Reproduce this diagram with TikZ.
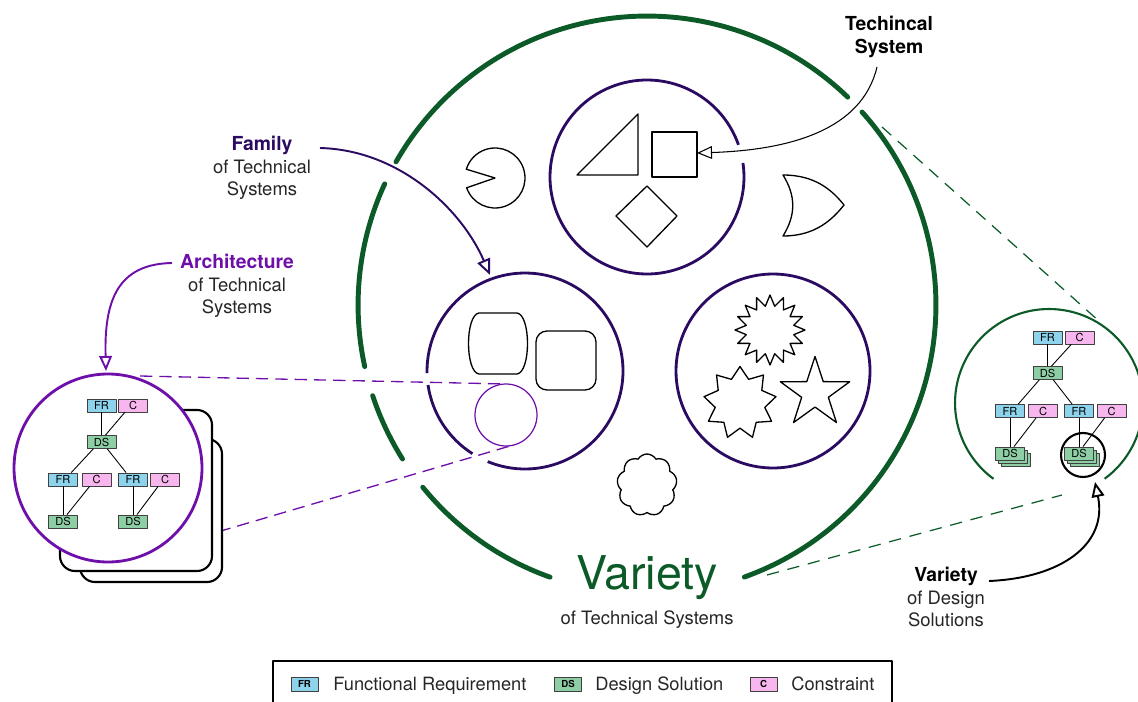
\documentclass[tikz,border=0pt]{standalone}
\usepackage{fontspec}
\setmainfont{TeX Gyre Heros}
\usetikzlibrary{arrows.meta,shapes.geometric,shapes.symbols,calc}
\definecolor{vgreen}{HTML}{0B5A28}
\definecolor{famp}{HTML}{2B0B62}
\definecolor{archp}{HTML}{6E0FAA}
\definecolor{frc}{HTML}{8ED3EC}
\definecolor{cc}{HTML}{F8B6EE}
\definecolor{dsc}{HTML}{8ECEA5}
\begin{document}
\begin{tikzpicture}[x=0.02cm, y=-0.02cm, line join=round,
  box/.style={draw=black!75, line width=0.5pt, minimum width=0.58cm, minimum height=0.26cm, inner sep=0pt, font=\fontsize{6.3}{6.3}\selectfont},
  fr/.style={box, fill=frc}, cs/.style={box, fill=cc}, ds/.style={box, fill=dsc},
  lgbox/.style={box, minimum width=0.54cm, minimum height=0.28cm, font=\fontsize{5.5}{5.5}\selectfont\bfseries},
  shp/.style={draw=black, line width=0.75pt, fill=white},
  tl/.style={line width=0.5pt, black},
  bigarc/.style={vgreen, line width=2.8pt, line cap=round},
  fam/.style={famp, line width=1.6pt},
  lbl/.style={align=center, font=\fontsize{10.5}{12.8}\selectfont, text=black!85, inner sep=0pt},
  lgtxt/.style={anchor=base west, font=\fontsize{10.4}{12}\selectfont, text=black!85, inner sep=0pt},
  opentip/.style={-{Triangle[length=#1, width=0.85*#1, fill=white]}}
]
\useasboundingbox (0,0) rectangle (1138,702);

% ---------- big variety circle ----------
\coordinate (BC) at (647,305);
\draw[bigarc] (BC) ++(150.3:5.78cm) arc[start angle=150.3, end angle=46, radius=5.78cm];
\draw[bigarc] (BC) ++(155.2:5.78cm) arc[start angle=155.2, end angle=192.3, radius=5.78cm];
\draw[bigarc] (BC) ++(198.3:5.78cm) arc[start angle=198.3, end angle=212.2, radius=5.78cm];
\draw[bigarc] (BC) ++(219.1:5.78cm) arc[start angle=219.1, end angle=250.4, radius=5.78cm];
\draw[bigarc] (BC) ++(41.9:5.78cm) arc[start angle=41.9, end angle=-70.3, radius=5.78cm];

% ---------- dashed zoom lines ----------
\coordinate (gA1) at (882,127);
\coordinate (gA2) at (1100,322);
\coordinate (gB1) at (767,575);
\coordinate (gB2) at (1062,495);
\draw[vgreen, line width=0.7pt, dash pattern=on 7pt off 5pt] (gA1) -- (gA2);
\draw[vgreen, line width=0.7pt, dash pattern=on 7pt off 5pt] (gB1) -- (gB2);

\coordinate (pA1) at (140,376);
\coordinate (pA2) at (506,384);
\coordinate (pB1) at (163,548);
\coordinate (pB2) at (510,446);
\draw[archp, line width=0.75pt, dash pattern=on 7pt off 4pt] (pA1) -- (pA2);
\draw[archp, line width=0.75pt, dash pattern=on 7pt off 4pt] (pB1) -- (pB2);

% ---------- family circles ----------
\coordinate (F1) at (647,177);
\coordinate (F2) at (525,371);
\coordinate (F3) at (773,371);
\draw[fam] (F1) ++(19.4:1.94cm) arc[start angle=19.4, end angle=368.3, radius=1.94cm];
\draw[fam] (F2) ++(188.2:1.96cm) arc[start angle=188.2, end angle=237.6, radius=1.96cm];
\draw[fam] (F2) ++(247.6:1.96cm) arc[start angle=247.6, end angle=541.2, radius=1.96cm];
\draw[fam] (F3) circle[radius=97];

% shapes in top family circle
\draw[shp] (577,175) -- (638,114) -- (638,175) -- cycle;
\draw[shp] (652,132) rectangle (697,177);
\draw[shp] (647,186) -- (677,216) -- (647,247) -- (616,216) -- cycle;

% shapes outside
\coordinate (PC) at (495,178);
\draw[shp] (PC) -- ++(199:0.6cm) arc[start angle=199, end angle=523, radius=0.6cm] -- cycle;
\draw[shp] (783,175) .. controls (815,175) and (832,190) .. (844,205)
  .. controls (832,220) and (815,236) .. (783,236)
  .. controls (796,215) and (796,196) .. (783,175) -- cycle;
\node[cloud, cloud puffs=9, cloud puff arc=120, aspect=1, draw, line width=0.75pt, fill=white,
  minimum width=1.2cm, minimum height=1.24cm, inner sep=0pt] (cl) at (647,485) {};

% shapes in left family circle
\draw[shp] (479,313) -- (517,313) .. controls (531,315) and (531,372) .. (517,374)
  -- (479,374) .. controls (465,372) and (465,315) .. (479,313) -- cycle;
\draw[shp, rounded corners=0.22cm] (536,331) rectangle (596,390);
\draw[archp, line width=0.7pt] (506,415) circle[radius=31];

% shapes in right family circle
\node[star, star points=16, star point ratio=1.45, minimum size=1.4cm, inner sep=0pt, shp] (sb) at (770,330) {};
\node[star, star points=9, star point ratio=1.45, minimum size=1.46cm, inner sep=0pt, shp] (s9) at (740,403) {};
\node[star, star points=5, star point ratio=2.6, minimum size=1.46cm, inner sep=0pt, shp] (s5) at (815,393) {};

% ---------- architecture zoom ----------
\draw[line width=1.2pt, fill=white, rounded corners=0.3cm] (80,439) rectangle (222,582);
\draw[line width=1.2pt, fill=white, rounded corners=0.3cm] (60,410) rectangle (212,571);
\draw[archp, line width=1.6pt, fill=white] (108,468) circle[radius=94];

\node[fr] (aFR1) at (101.5,405.5) {FR};
\node[cs] (aC1) at (133,405.5) {C};
\node[ds] (aDS1) at (101.5,442) {DS};
\node[fr] (aFR2) at (63,479.5) {FR};
\node[cs] (aC2) at (96.5,479.5) {C};
\node[fr] (aFR3) at (133,479.5) {FR};
\node[cs] (aC3) at (165,479.5) {C};
\node[ds] (aDS2) at (63,521.5) {DS};
\node[ds] (aDS3) at (133,521.5) {DS};
\draw[tl] (aFR1) -- (aDS1);
\draw[tl] (aC1.220) -- (aDS1.60);
\draw[tl] (aDS1.220) -- (aFR2.40);
\draw[tl] (aDS1.310) -- (aFR3.135);
\draw[tl] (aFR2) -- (aDS2);
\draw[tl] (aC2.225) -- (aDS2.60);
\draw[tl] (aFR3) -- (aDS3);
\draw[tl] (aC3.225) -- (aDS3.60);

% ---------- design solutions zoom ----------
\coordinate (DC) at (1049,403);
\draw[vgreen, line width=1.2pt] (DC) ++(-53.7:1.88cm) arc[start angle=-53.7, end angle=233.8, radius=1.88cm];

\node[fr] (dFR1) at (1047.5,337.5) {FR};
\node[cs] (dC1) at (1079.5,337.5) {C};
\node[ds] (dDS1) at (1047.5,373) {DS};
\node[fr] (dFR2) at (1010,411) {FR};
\node[cs] (dC2) at (1043,411) {C};
\node[fr] (dFR3) at (1079,411) {FR};
\node[cs] (dC3) at (1111.5,411) {C};
\node[ds] (dDS2c) at (1016,459.5) {};
\node[ds] (dDS2b) at (1013,456.5) {};
\node[ds] (dDS2) at (1010,453.5) {DS};
\node[ds] (dDS3c) at (1085,459.5) {};
\node[ds] (dDS3b) at (1082,456.5) {};
\node[ds] (dDS3) at (1079,453.5) {DS};
\draw[tl] (dFR1) -- (dDS1);
\draw[tl] (dC1.220) -- (dDS1.60);
\draw[tl] (dDS1.220) -- (dFR2.40);
\draw[tl] (dDS1.310) -- (dFR3.135);
\draw[tl] (dFR2) -- (dDS2);
\draw[tl] (dC2.225) -- (dDS2.60);
\draw[tl] (dFR3) -- (dDS3);
\draw[tl] (dC3.225) -- (dDS3.60);
\node[circle, draw=black, line width=1.2pt, minimum size=0.88cm, inner sep=0pt] (sel) at (1083,455) {};

% ---------- labels ----------
\node[align=center, font=\fontsize{11}{13.5}\selectfont\bfseries, inner sep=0pt] (tsys) at (889,37) {Techincal\\System};
\node[lbl] (famL) at (262,168) {{\fontsize{11}{12.8}\selectfont\bfseries\color{famp}Family}\\of Technical\\Systems};
\node[lbl] (archL) at (237,286) {{\fontsize{11}{12.8}\selectfont\bfseries\color{archp}Architecture}\\of Technical\\Systems};
\node[inner sep=0pt, font=\fontsize{26.5}{26.5}\selectfont, text=vgreen] (varL) at (647,578) {Variety};
\node[inner sep=0pt, font=\fontsize{10.5}{12.8}\selectfont, text=black!85] (varS) at (647,620) {of Technical Systems};
\node[lbl] (dsL) at (946,597) {{\fontsize{11}{12.8}\selectfont\bfseries\color{black}Variety}\\of Design\\Solutions};

% ---------- arrows ----------
\coordinate (famS) at (320,148);
\coordinate (famE) at (490,275);
\draw[famp, line width=1.1pt, opentip=0.32cm] (famS) .. controls (400,150) and (462,210) .. (famE);
\coordinate (tsS) at (877,67);
\coordinate (tsE) at (697,153);
\draw[black, line width=0.6pt, opentip=0.3cm] (tsS) .. controls (862,130) and (790,150) .. (tsE);
\coordinate (arS) at (172,263);
\coordinate (arE) at (106,371);
\draw[archp, line width=1.1pt, opentip=0.3cm] (arS) .. controls (118,264) and (104,300) .. (arE);
\coordinate (dvS) at (989,581);
\coordinate (dvE) at (1095,482);
\draw[black, line width=1.1pt, opentip=0.3cm] (dvS) .. controls (1060,578) and (1108,545) .. (dvE);

% ---------- legend ----------
\coordinate (lg1) at (273,704);
\coordinate (lg2) at (273,661);
\coordinate (lg3) at (892,661);
\coordinate (lg4) at (892,704);
\draw[line width=0.6pt] (lg1) -- (lg2) -- (lg3) -- (lg4);
\node[lgbox, fill=frc] (lgFR) at (304.5,684) {FR};
\node[lgtxt] (lgFRt) at (333,690) {Functional Requirement};
\node[lgbox, fill=dsc] (lgDS) at (568,684) {DS};
\node[lgtxt] (lgDSt) at (595,690) {Design Solution};
\node[lgbox, fill=cc] (lgC) at (763.5,684) {C};
\node[lgtxt] (lgCt) at (791,690) {Constraint};
\end{tikzpicture}
\end{document}
